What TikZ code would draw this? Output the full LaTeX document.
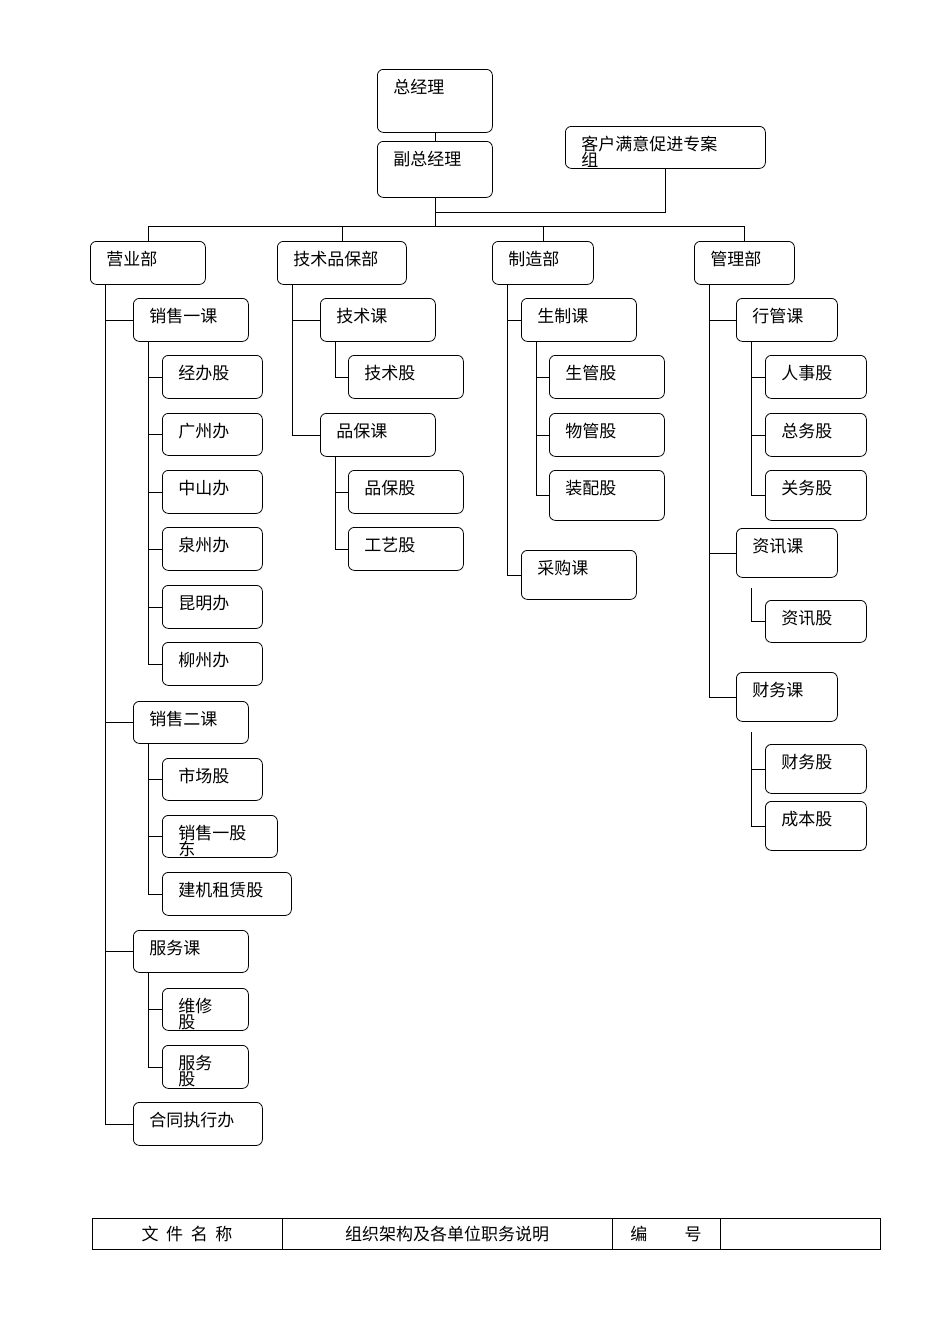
\documentclass[tikz,border=0pt]{standalone}
\usepackage{fontspec}
\setmainfont{Noto Sans CJK SC}
\begin{document}
\begin{tikzpicture}[x=1pt,y=-1pt,line width=0.8pt,
  bx/.style={draw,rounded corners=6pt,anchor=north west,inner sep=0pt},
  tx/.style={anchor=north west,inner sep=0pt,align=left,font=\fontsize{17}{16}\selectfont}]
\useasboundingbox (0,0) rectangle (950,1344);
\newcommand\bx[6]{\node[bx,minimum width=#4-#2,minimum height=#5-#3] (#1) at (#2,#3) {};
  \node[tx] (#1t) at ([xshift=16pt,yshift=-10pt]#1.north west) {#6};}
\bx{gm}{377}{69}{492}{132}{总经理}
\bx{vgm}{377}{141}{492}{197}{副总经理}
\bx{cl}{565}{126}{765}{168}{客户满意促进专案\\组}
\bx{d1}{90}{241}{205}{284}{营业部}
\bx{d2}{277}{241}{406}{284}{技术品保部}
\bx{d3}{492}{241}{593}{284}{制造部}
\bx{d4}{694}{241}{794}{284}{管理部}
% sales
\bx{s1}{133}{298}{248}{341}{销售一课}
\bx{s2}{133}{701}{248}{743}{销售二课}
\bx{s3}{133}{930}{248}{972}{服务课}
\bx{s4}{133}{1102}{262}{1145}{合同执行办}
\bx{a1}{162}{355}{262}{398}{经办股}
\bx{a2}{162}{413}{262}{455}{广州办}
\bx{a3}{162}{470}{262}{513}{中山办}
\bx{a4}{162}{527}{262}{570}{泉州办}
\bx{a5}{162}{585}{262}{628}{昆明办}
\bx{a6}{162}{642}{262}{685}{柳州办}
\bx{b1}{162}{758}{262}{800}{市场股}
\bx{b2}{162}{815}{277}{857}{销售一股\\东}
\bx{b3}{162}{872}{291}{915}{建机租赁股}
\bx{c1}{162}{988}{248}{1030}{维修\\股}
\bx{c2}{162}{1045}{248}{1088}{服务\\股}
% tech
\bx{t1}{320}{298}{435}{341}{技术课}
\bx{t2}{320}{413}{435}{456}{品保课}
\bx{t11}{348}{355}{463}{398}{技术股}
\bx{t21}{348}{470}{463}{513}{品保股}
\bx{t22}{348}{527}{463}{570}{工艺股}
% manufacturing
\bx{m1}{521}{298}{636}{341}{生制课}
\bx{m2}{521}{550}{636}{599}{采购课}
\bx{m11}{549}{355}{664}{398}{生管股}
\bx{m12}{549}{413}{664}{456}{物管股}
\bx{m13}{549}{470}{664}{520}{装配股}
% admin
\bx{g1}{736}{298}{837}{341}{行管课}
\bx{g2}{736}{528}{837}{577}{资讯课}
\bx{g3}{736}{672}{837}{721}{财务课}
\bx{g11}{765}{355}{866}{398}{人事股}
\bx{g12}{765}{413}{866}{456}{总务股}
\bx{g13}{765}{470}{866}{520}{关务股}
\bx{g21}{765}{600}{866}{642}{资讯股}
\bx{g31}{765}{744}{866}{793}{财务股}
\bx{g32}{765}{801}{866}{850}{成本股}
% connectors
\draw (gm.south) -- (vgm.north);
\coordinate (bus) at ([yshift=-29pt]vgm.south);
\draw (vgm.south) -- (bus);
\draw (cl.south) |- ([yshift=-15pt]vgm.south);
\foreach \d in {d1,d2,d3,d4} \draw (bus) -| (\d.north);
\foreach \p/\c in {d1/s1,d1/s2,d1/s3,d1/s4,s1/a1,s1/a2,s1/a3,s1/a4,s1/a5,s1/a6,
  s2/b1,s2/b2,s2/b3,s3/c1,s3/c2,d2/t1,d2/t2,t1/t11,t2/t21,t2/t22,
  d3/m1,d3/m2,m1/m11,m1/m12,m1/m13,d4/g1,d4/g2,d4/g3,g1/g11,g1/g12,g1/g13}
  \draw ([xshift=15pt]\p.south west) |- (\c.west);
\draw ([xshift=15pt,yshift=-10pt]g2.south west) |- (g21.west);
\draw ([xshift=15pt,yshift=-10pt]g3.south west) |- (g31.west);
\draw ([xshift=15pt,yshift=-10pt]g3.south west) |- (g32.west);
% table
\node[draw,anchor=north west,minimum width=788,minimum height=31,inner sep=0] (tb) at (92,1218) {};
\draw (282,1218) -- (282,1249) (612,1218) -- (612,1249) (720,1218) -- (720,1249);
\node[tx,anchor=center] (k1) at (187,1234) {文\ \ 件\ \ 名\ \ 称};
\node[tx,anchor=center] (k2) at (447,1234) {组织架构及各单位职务说明};
\node[tx,anchor=center] (k3) at (666,1234) {编\hspace{2.2em}号};
\end{tikzpicture}
\end{document}
